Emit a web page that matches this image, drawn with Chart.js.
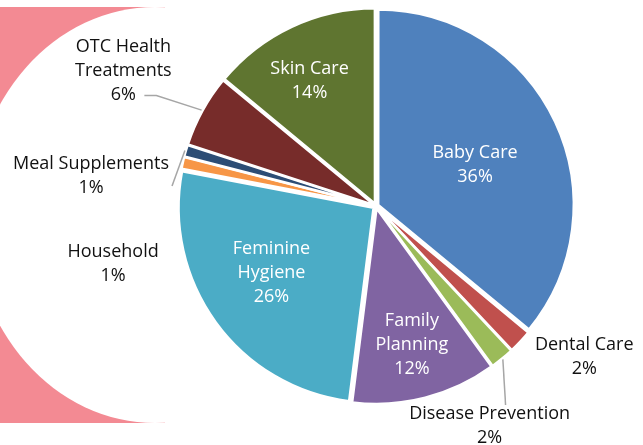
<!DOCTYPE html>
<html>
<head>
<meta charset="utf-8">
<script src="https://cdn.jsdelivr.net/npm/chart.js@4/dist/chart.umd.min.js"></script>
<style>
  html, body { margin: 0; padding: 0; background: #ffffff; }
  #wrap { width: 643px; height: 445px; position: relative; }
</style>
</head>
<body>
<div id="wrap"><canvas id="c" width="643" height="445"></canvas></div>
<script>
// ---- data ----
const categories = ['Baby Care', 'Dental Care', 'Disease Prevention', 'Family Planning',
  'Feminine Hygiene', 'Household', 'Meal Supplements', 'OTC Health Treatments', 'Skin Care'];
const shares = [36, 2, 2, 12, 26, 1, 1, 6, 14];
const labelLines = [['Baby Care'], ['Dental Care'], ['Disease Prevention'], ['Family', 'Planning'],
  ['Feminine', 'Hygiene'], ['Household'], ['Meal Supplements'], ['OTC Health', 'Treatments'], ['Skin Care']];

// ---- style ----
const colors = ['#4F81BD', '#C0504D', '#9BBB59', '#8064A2', '#4BACC6', '#F79646', '#2C4D75', '#772C2A', '#5F7530'];
const EXPLODE = 3;       // pixels each slice is pulled outward
const FONT = '18px "Open Sans", "Lato", sans-serif';
const LINE_H = 24;
// label placement: angle (deg clockwise from top, null = slice middle), distance as fraction of radius, nudge, colour
const labelPlace = [
  { a: null, k: 0.55, dx: 2, dy: 5, c: '#ffffff' },
  { a: 126,  k: 1.32, dx: 0, dy: 0, c: '#111111' },
  { a: 152.7, k: 1.27, dx: 0, dy: 0, c: '#111111' },
  { a: null, k: 0.74, dx: 0, dy: -1, c: '#ffffff' },
  { a: null, k: 0.65, dx: -2, dy: -8, c: '#ffffff' },
  { a: 257.7, k: 1.38, dx: 0, dy: 1, c: '#111111' },
  { a: 276.2, k: 1.47, dx: 0, dy: 1, c: '#111111' },
  { a: 298.2, k: 1.47, dx: 0, dy: 0, c: '#111111' },
  { a: null, k: 0.74, dx: -5, dy: 5, c: '#ffffff' }
];
// leader lines: bend points relative to label anchor (line starts at slice edge)
const leaders = {
  7: [[33, 25], [21, 25]],
  6: [[81, 10]],
  2: [[16, -21]]
};

const total = shares.reduce((s, v) => s + v, 0);

const bgPlugin = {
  id: 'bg',
  beforeDraw(chart) {
    const ctx = chart.ctx;
    ctx.save();
    ctx.fillStyle = '#F38A93';
    ctx.fillRect(0, 7, 165, 416);
    ctx.fillStyle = '#ffffff';
    ctx.beginPath();
    ctx.ellipse(155, 215, 183, 208, 0, 0, Math.PI * 2);
    ctx.fill();
    ctx.restore();
  }
};

const labelPlugin = {
  id: 'labels',
  afterDatasetsDraw(chart) {
    const ctx = chart.ctx;
    const meta = chart.getDatasetMeta(0);
    ctx.save();
    ctx.font = FONT;
    ctx.textAlign = 'center';
    ctx.textBaseline = 'middle';
    meta.data.forEach((arc, i) => {
      const cx = arc.x, cy = arc.y, r = arc.outerRadius;
      const mid = (arc.startAngle + arc.endAngle) / 2;
      const p = labelPlace[i];
      const ang = p.a === null ? mid : (p.a - 90) * Math.PI / 180;
      const ax = cx + Math.cos(ang) * r * p.k + p.dx;
      const ay = cy + Math.sin(ang) * r * p.k + p.dy;
      const lines = labelLines[i].concat([shares[i] + '%']);
      // leader
      if (leaders[i]) {
        ctx.strokeStyle = '#A6A6A6';
        ctx.lineWidth = 1.5;
        ctx.beginPath();
        ctx.moveTo(cx + Math.cos(mid) * (r + EXPLODE + 1), cy + Math.sin(mid) * (r + EXPLODE + 1));
        leaders[i].forEach(([dx, dy]) => ctx.lineTo(ax + dx, ay + dy));
        ctx.stroke();
      }
      ctx.fillStyle = p.c;
      const top = ay - (lines.length - 1) * LINE_H / 2;
      lines.forEach((t, j) => ctx.fillText(t, ax, top + j * LINE_H));
    });
    ctx.restore();
  }
};

new Chart(document.getElementById('c'), {
  type: 'pie',
  data: {
    labels: categories,
    datasets: [{
      data: shares,
      backgroundColor: colors,
      borderColor: '#ffffff',
      borderWidth: 2.5,
      offset: (c) => {
        const circ = c.raw / total * Math.PI * 2;
        const fix = 1 - Math.sin(Math.min(Math.PI, circ));
        return 4 * EXPLODE / (1 + fix);
      }
    }]
  },
  options: {
    responsive: false,
    animation: false,
    radius: 195,
    layout: { padding: { left: 109, right: 0, top: 0, bottom: 33 } },
    plugins: { legend: { display: false }, tooltip: { enabled: false } }
  },
  plugins: [bgPlugin, labelPlugin]
});
</script>
</body>
</html>
